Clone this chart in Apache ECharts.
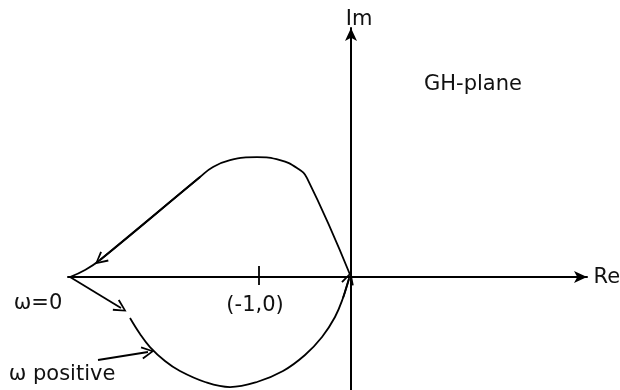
<!DOCTYPE html>
<html>
<head>
<meta charset="utf-8" />
<title>GH-plane</title>
<style>
	html, body {
		margin: 0;
		padding: 0;
		background: #fff;
	}
	#main {
		width: 620px;
		height: 390px;
	}
</style>
</head>
<body>
<div id="main"></div>
<script src="https://cdn.jsdelivr.net/npm/echarts@6/dist/echarts.min.js"></script>
<script>
	// upper branch, origin -> round the top -> left crossing  (Re, Im)
	var upperPath = [[0, 0], [-0.478, 1.076], [-0.587, 1.185], [-0.772, 1.272], [-1.022, 1.304],
		[-1.315, 1.272], [-1.5, 1.196], [-1.641, 1.087], [-2.728, 0.185], [-2.891, 0.076], [-3.054, 0]];
	// lower branch, left -> round the bottom -> origin
	var lowerPath = [[-2.402, -0.446], [-2.293, -0.62], [-2.185, -0.761], [-2.022, -0.913], [-1.859, -1.022],
		[-1.587, -1.141], [-1.315, -1.196], [-1.022, -1.141], [-0.739, -1.022], [-0.5, -0.848],
		[-0.315, -0.652], [-0.174, -0.435], [-0.087, -0.228], [-0.022, -0.022]];
	// arrows: [from, to]
	var arrowSegs = [
		[[-1.641, 1.087], [-2.728, 0.185]],
		[[-0.087, -0.228], [-0.02, -0.01]],
		[[-3.054, 0], [-2.5, -0.337]],
		[[-2.75, -0.902], [-2.207, -0.815]]
	];
	var tickMark = [[-1, 0.12], [-1, -0.087]];
	var noteTexts = ['GH-plane', '(-1,0)', 'ω=0', 'ω positive', 'Im', 'Re'];
	var notePos = [[1.326, 2.09], [-1.043, -0.31], [-3.402, -0.293], [-3.141, -1.065], [0.087, 2.8], [2.78, -0.01]];

	var chevron = 'path://M0,10 L5,0 L10,10 L8.7,10.7 L5,2.8 L1.3,10.7 Z';
	var ink = '#000';

	var chart = echarts.init(document.getElementById('main'), null, { renderer: 'canvas' });
	chart.setOption({
		animation: false,
		backgroundColor: '#fff',
		grid: { left: 68, right: 33, top: 28, bottom: 0 },
		xAxis: {
			type: 'value', min: -3.076, max: 2.565,
			axisLine: { onZero: true, symbol: ['none', 'arrow'], symbolSize: [9, 13], lineStyle: { color: ink, width: 2 } },
			axisTick: { show: false }, axisLabel: { show: false }, splitLine: { show: false }
		},
		yAxis: {
			type: 'value', min: -1.228, max: 2.707,
			axisLine: { onZero: true, symbol: ['none', 'arrow'], symbolSize: [9, 13], lineStyle: { color: ink, width: 2 } },
			axisTick: { show: false }, axisLabel: { show: false }, splitLine: { show: false }
		},
		series: [
			{
				type: 'line', data: upperPath, smooth: 0.45, showSymbol: false, silent: true,
				lineStyle: { color: ink, width: 1.8 }
			},
			{
				type: 'line', data: lowerPath, smooth: 0.4, showSymbol: false, silent: true,
				lineStyle: { color: ink, width: 1.8 }
			},
			{
				type: 'line', data: tickMark, showSymbol: false, silent: true,
				lineStyle: { color: ink, width: 1.8 }
			},
			{
				type: 'lines', coordinateSystem: 'cartesian2d', silent: true, z: 3,
				data: arrowSegs.map(function (s) { return { coords: s }; }),
				symbol: ['none', chevron], symbolSize: [14, 13],
				lineStyle: { color: ink, width: 1.8, opacity: 1 }
			}
		]
	});

	chart.setOption({
		graphic: noteTexts.map(function (t, i) {
			var p = chart.convertToPixel({ gridIndex: 0 }, notePos[i]);
			return {
				type: 'text', x: p[0], y: p[1], silent: true,
				style: { text: t, fontSize: 21, fontFamily: 'DejaVu Sans', fill: '#111', align: 'center', verticalAlign: 'middle' }
			};
		})
	});
</script>
</body>
</html>
